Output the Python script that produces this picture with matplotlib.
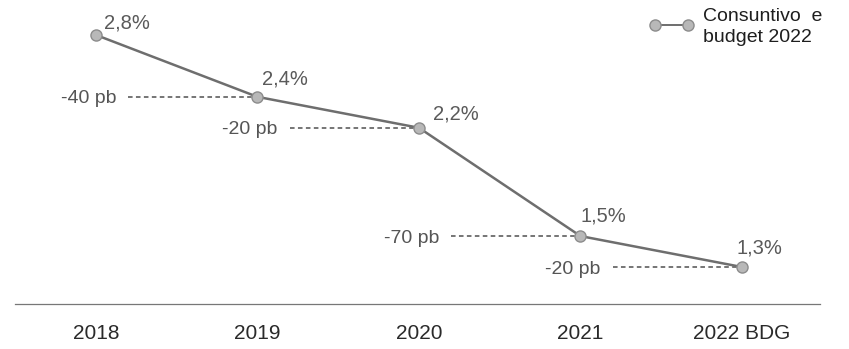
import numpy as np
import matplotlib.pyplot as plt

plt.rcParams['font.family'] = ['Liberation Sans', 'DejaVu Sans']

# dati
anni = ['2018', '2019', '2020', '2021', '2022 BDG']
valori = [2.8, 2.4, 2.2, 1.5, 1.3]
etichette = ['2,8%', '2,4%', '2,2%', '1,5%', '1,3%']
delta_pb = ['', '-40 pb', '-20 pb', '-70 pb', '-20 pb']

x = np.arange(len(anni))

fig = plt.figure(figsize=(8.49, 3.49), dpi=100)
ax = fig.add_axes([0, 0, 1, 1])
ax.set_xlim(-0.594, 4.663)
ax.set_ylim(0.770, 3.026)
ax.axis('off')

grigio_linea = '#6e6e6e'
grigio_marker = '#b8b8b8'

# linea principale
ax.plot(x, valori, color=grigio_linea, linewidth=1.8, zorder=3,
        marker='o', markersize=8, markerfacecolor=grigio_marker,
        markeredgecolor='#8c8c8c', markeredgewidth=1.0)

# etichette percentuali (offset in pixel: sinistra, baseline)
offs = [(8, 6), (5, 12), (14, 8), (0, 15), (-5, 14)]
for xi, v, t, o in zip(x, valori, etichette, offs):
    ax.annotate(t, (xi, v), xytext=o, textcoords='offset pixels',
                ha='left', va='baseline', fontsize=14.5, color='#5a5a5a')

# linee tratteggiate con variazione in pb
for i in range(1, len(x)):
    start = x[i - 1] + 0.2
    ax.plot([start, x[i] - 0.03], [valori[i], valori[i]], color='#505050',
            linestyle=(0, (3, 2.2)), linewidth=1.1, zorder=2)
    ax.annotate(delta_pb[i], (start, valori[i]), xytext=(-12, 0),
                textcoords='offset pixels', ha='right', va='center_baseline',
                fontsize=14, color='#555555')

# linea di base
ax.plot([-0.5, 4.483], [1.061, 1.061], color='#777777', linewidth=0.9)

# etichette asse x
for xi, a in zip(x, anni):
    ax.text(xi, 0.872, a, ha='center', va='center', fontsize=15,
            color='#2a2a2a')

# legenda
ax.plot([3.461, 3.666], [2.865, 2.865], color=grigio_linea, linewidth=1.4,
        marker='o', markersize=8, markerfacecolor=grigio_marker,
        markeredgecolor='#8c8c8c', markeredgewidth=1.0)
ax.text(3.759, 2.850, 'Consuntivo  e\nbudget 2022', ha='left', va='center',
        fontsize=14, color='#1e1e1e', linespacing=1.3)

fig.savefig('out.png', dpi=100)
